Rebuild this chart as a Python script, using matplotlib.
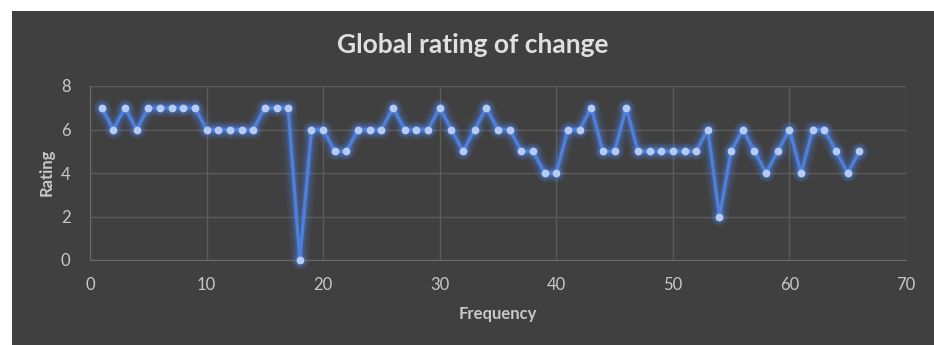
import matplotlib
matplotlib.use("Agg")
import matplotlib.pyplot as plt
from matplotlib.patches import Rectangle

plt.rcParams['font.family'] = ['Lato', 'DejaVu Sans']

frequency = list(range(1, 67))
rating = [7, 6, 7, 6, 7, 7, 7, 7, 7, 6,
          6, 6, 6, 6, 7, 7, 7, 0, 6, 6,
          5, 5, 6, 6, 6, 7, 6, 6, 6, 7,
          6, 5, 6, 7, 6, 6, 5, 5, 4, 4,
          6, 6, 7, 5, 5, 7, 5, 5, 5, 5,
          5, 5, 6, 2, 5, 6, 5, 4, 5, 6,
          4, 6, 6, 5, 4, 5]
x_ticks = [0, 10, 20, 30, 40, 50, 60, 70]
y_ticks = [0, 2, 4, 6, 8]

W, H = 934, 345
bg = '#404040'
fig = plt.figure(figsize=(W / 100, H / 100), dpi=100)
fig.patch.set_facecolor(bg)
# white margins at top and left
fig.patches.append(Rectangle((0, 0), 12 / W, 1, transform=fig.transFigure,
                             facecolor='white', edgecolor='none', zorder=-10))
fig.patches.append(Rectangle((0, 1 - 11 / H), 1, 11 / H, transform=fig.transFigure,
                             facecolor='white', edgecolor='none', zorder=-10))

ax = fig.add_axes([90 / W, 1 - 260 / H, (906 - 90) / W, (260 - 86) / H])
ax.set_facecolor(bg)
ax.set_xlim(0, 70)
ax.set_ylim(0, 8)
ax.set_xticks(x_ticks)
ax.set_yticks(y_ticks)
ax.grid(True, color='#5c5c5c', linewidth=1.0)
ax.set_axisbelow(True)
for s in ax.spines.values():
    s.set_visible(False)
ax.spines['left'].set_visible(True)
ax.spines['left'].set_color('#6a6a6a')
ax.spines['bottom'].set_visible(True)
ax.spines['bottom'].set_color('#6a6a6a')
ax.tick_params(length=0, colors='#c8c8c8', labelsize=12)
ax.tick_params(axis='x', pad=12)
ax.tick_params(axis='y', pad=14)

# glow
for lw, a in [(13, 0.07), (10, 0.09), (7, 0.13), (5, 0.2)]:
    ax.plot(frequency, rating, color='#4f82e8', linewidth=lw, alpha=a,
            solid_capstyle='round', solid_joinstyle='round', clip_on=False)
for ms, a in [(12, 0.12), (9, 0.18)]:
    ax.plot(frequency, rating, linestyle='none', marker='o', markersize=ms,
            color='#4f82e8', alpha=a, markeredgewidth=0, clip_on=False)
ax.plot(frequency, rating, color='#4d7fdc', linewidth=2.4,
        solid_joinstyle='round', clip_on=False, zorder=5)
ax.plot(frequency, rating, linestyle='none', marker='o', markersize=4.6,
        markerfacecolor='#b4cbf2', markeredgecolor='#b4cbf2',
        clip_on=False, zorder=6)

fig.text(473 / W, 1 - 45 / H, 'Global rating of change', ha='center',
         va='center', fontsize=19, fontweight='bold', color='#e0e0e0')
fig.text(498 / W, 1 - 314 / H, 'Frequency', ha='center', va='center',
         fontsize=12, fontweight='bold', color='#c8c8c8')
fig.text(47 / W, 1 - 172 / H, 'Rating', ha='center', va='center',
         fontsize=12, fontweight='bold', color='#c8c8c8', rotation=90)

fig.savefig('out.png', dpi=100, facecolor=fig.get_facecolor())
